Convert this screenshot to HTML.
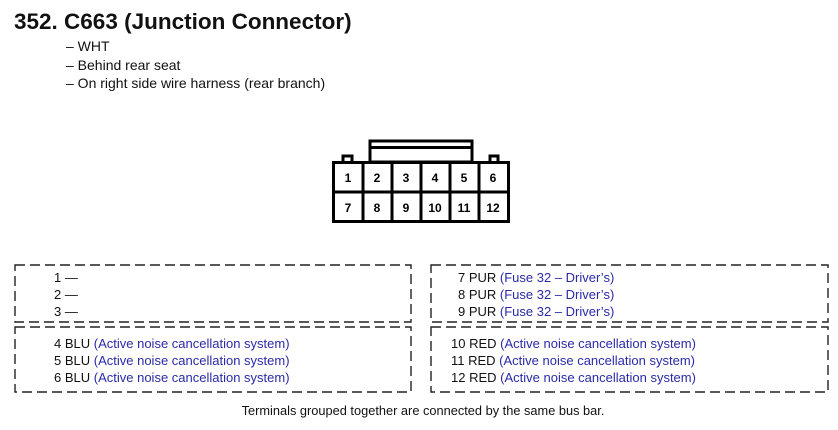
<!DOCTYPE html>
<html><head><style>
body{margin:0;width:838px;height:430px;background:#fff;font-family:"Liberation Sans",Arial,sans-serif;position:relative;overflow:hidden;color:#111}
.a{position:absolute;white-space:nowrap}
.t{font-size:13px}
.s{font-size:14px}
.b{color:#2a2aa8}
</style></head><body>
<div class="a" style="left:14px;top:9px;font-size:22.5px;font-weight:bold">352. C663 (Junction Connector)</div>
<div class="a s" style="left:66px;top:38px">– WHT</div>
<div class="a s" style="left:66px;top:57px">– Behind rear seat</div>
<div class="a s" style="left:66px;top:75px">– On right side wire harness (rear branch)</div>
<svg class="a" style="left:0;top:0" width="838" height="430">
<g fill="none" stroke="#000" stroke-width="3">
<rect x="370" y="141" width="102" height="21" fill="#fff"/>
<line x1="370" y1="147.5" x2="472" y2="147.5"/>
<polyline points="343,162 343,156 352,156 352,162"/>
<polyline points="490,162 490,156 498,156 498,162"/>
<rect x="333.5" y="162.5" width="175" height="59"/>
<line x1="333" y1="192" x2="508" y2="192"/>
<line x1="363" y1="162" x2="363" y2="221"/>
<line x1="392" y1="162" x2="392" y2="221"/>
<line x1="421" y1="162" x2="421" y2="221"/>
<line x1="450" y1="162" x2="450" y2="221"/>
<line x1="479" y1="162" x2="479" y2="221"/>
</g>
<g fill="none" stroke="#222" stroke-width="1.4" stroke-dasharray="10,5">
<rect x="15" y="265" width="396" height="57"/>
<rect x="15" y="327" width="396" height="65"/>
<rect x="431" y="265" width="397" height="57"/>
<rect x="431" y="327" width="397" height="65"/>
</g>
<g font-family="Liberation Sans,Arial,sans-serif" font-weight="bold" font-size="12" text-anchor="middle">
<text x="348" y="182">1</text><text x="377" y="182">2</text><text x="406" y="182">3</text><text x="435" y="182">4</text><text x="464" y="182">5</text><text x="493" y="182">6</text>
<text x="348" y="212">7</text><text x="377" y="212">8</text><text x="406" y="212">9</text><text x="435" y="212">10</text><text x="464" y="212">11</text><text x="493" y="212">12</text>
</g>
</svg>
<div class="a t" style="left:54px;top:270px">1 —</div>
<div class="a t" style="left:54px;top:287px">2 —</div>
<div class="a t" style="left:54px;top:304px">3 —</div>
<div class="a t" style="left:54px;top:336px">4 BLU <span class="b">(Active noise cancellation system)</span></div>
<div class="a t" style="left:54px;top:353px">5 BLU <span class="b">(Active noise cancellation system)</span></div>
<div class="a t" style="left:54px;top:370px">6 BLU <span class="b">(Active noise cancellation system)</span></div>
<div class="a t" style="left:458px;top:270px">7 PUR <span class="b">(Fuse 32 – Driver’s)</span></div>
<div class="a t" style="left:458px;top:287px">8 PUR <span class="b">(Fuse 32 – Driver’s)</span></div>
<div class="a t" style="left:458px;top:304px">9 PUR <span class="b">(Fuse 32 – Driver’s)</span></div>
<div class="a t" style="left:451px;top:336px">10 RED <span class="b">(Active noise cancellation system)</span></div>
<div class="a t" style="left:451px;top:353px">11 RED <span class="b">(Active noise cancellation system)</span></div>
<div class="a t" style="left:451px;top:370px">12 RED <span class="b">(Active noise cancellation system)</span></div>
<div class="a" style="left:0;width:846px;text-align:center;top:403px;font-size:12.8px">Terminals grouped together are connected by the same bus bar.</div>
</body></html>
